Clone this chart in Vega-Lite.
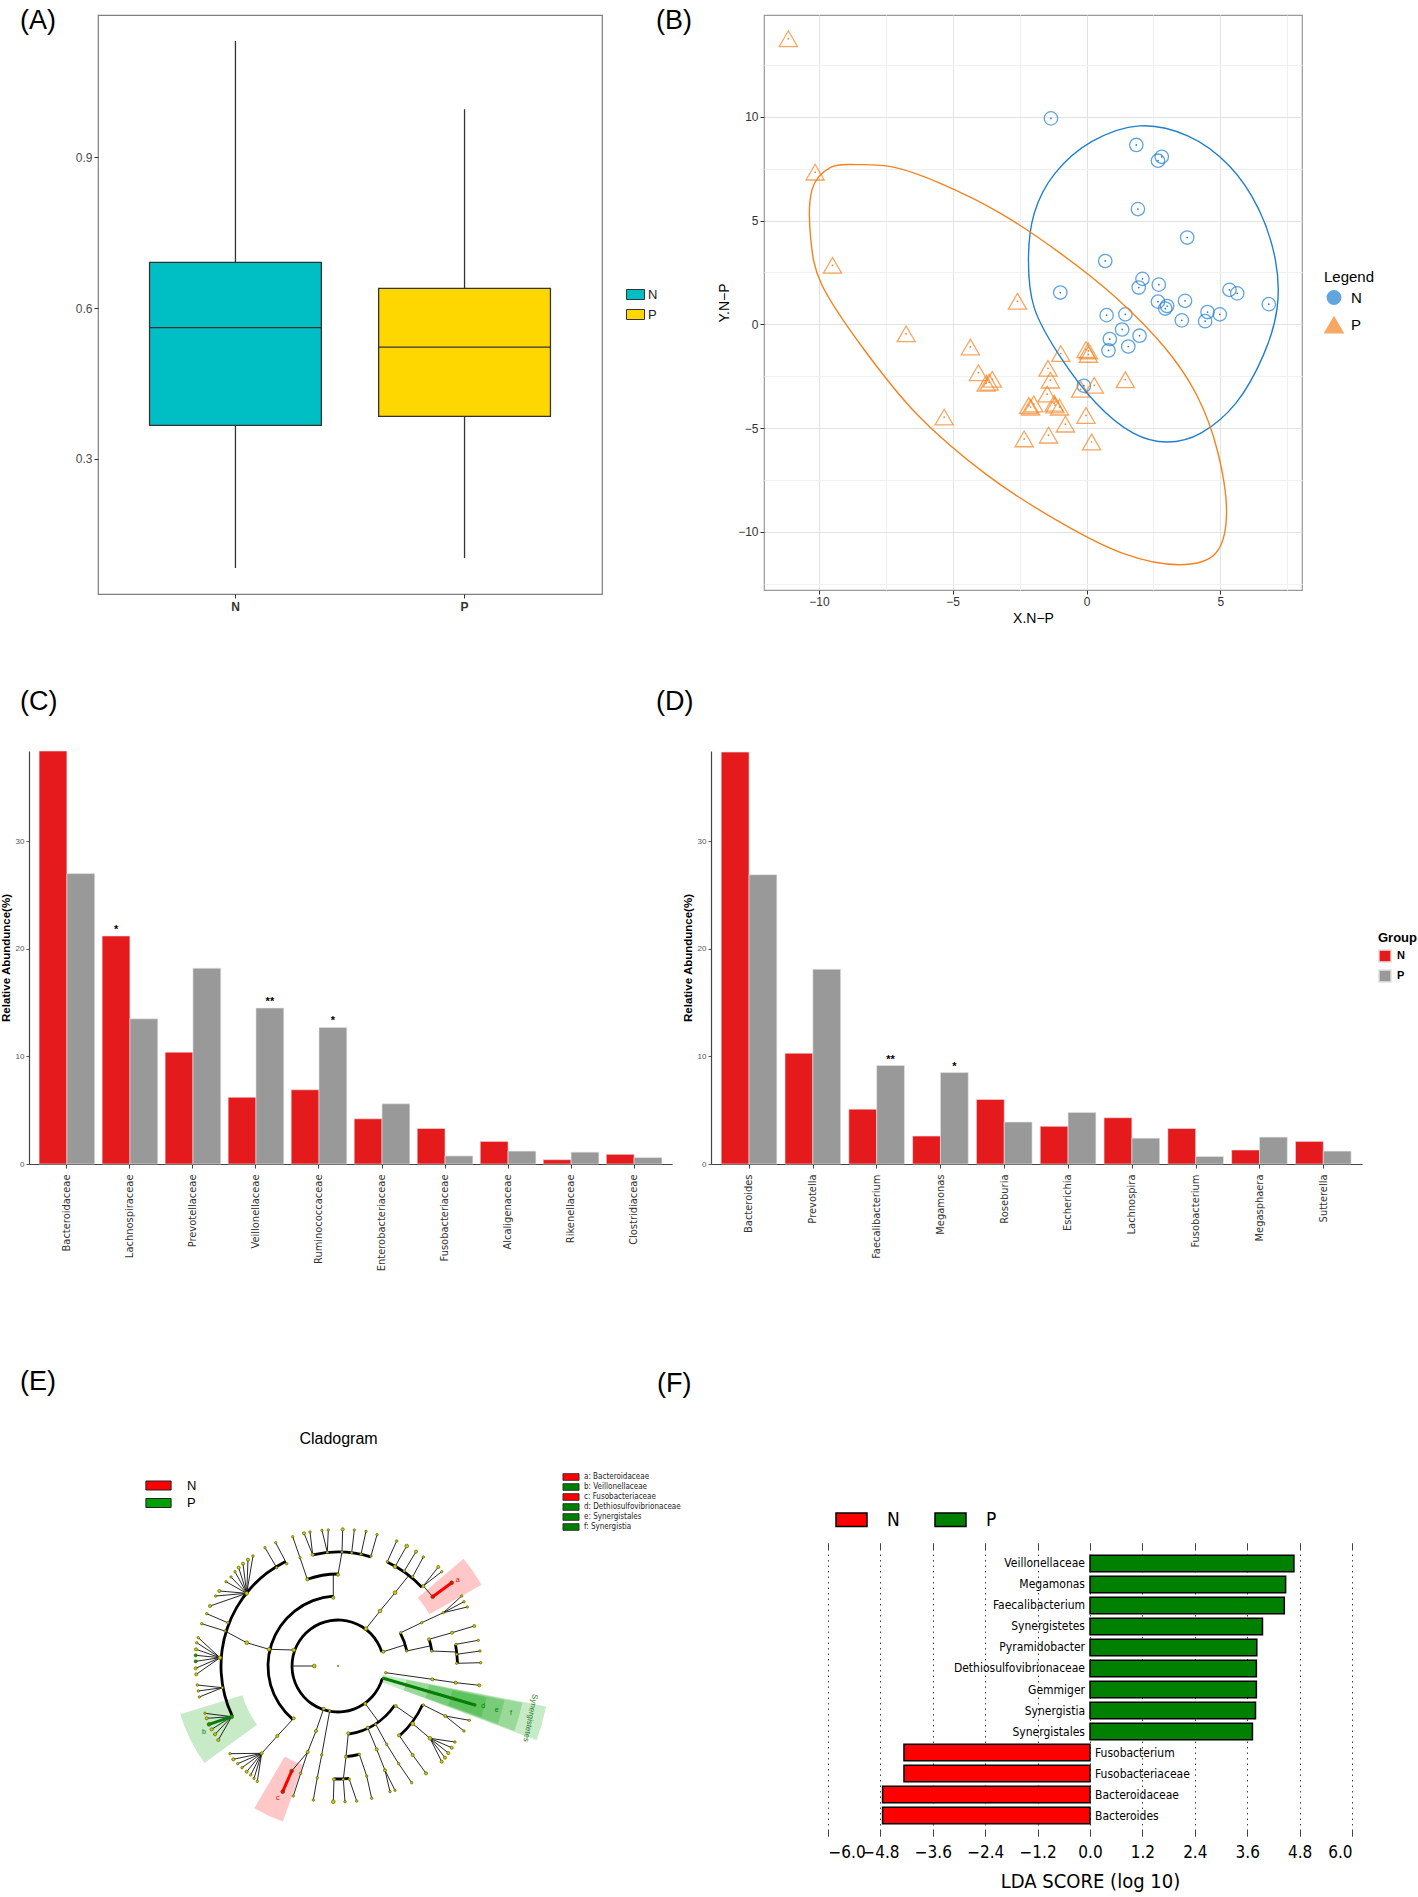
{
"$schema": "https://vega.github.io/schema/vega-lite/v6.json",
"background": "white",
"padding": {"left": 0, "top": 6, "right": 2, "bottom": 2},
"config": {
  "view": {"stroke": null},
  "font": "Liberation Sans",
  "axis": {"labelFont": "Liberation Sans", "titleFont": "Liberation Sans"},
  "legend": {"labelFont": "Liberation Sans", "titleFont": "Liberation Sans"},
  "title": {"font": "Liberation Sans"}
},
"datasets": {
  "boxA": [
    {"group": "N", "lower": 0.082, "q1": 0.366, "median": 0.561, "q3": 0.691, "upper": 1.132},
    {"group": "P", "lower": 0.102, "q1": 0.384, "median": 0.522, "q3": 0.639, "upper": 0.996}
  ],
  "pcoa": [
    {"group":"N","x":-1.33,"y":9.92},{"group":"N","x":1.86,"y":8.64},{"group":"N","x":2.67,"y":7.88},{"group":"N","x":2.81,"y":8.07},
    {"group":"N","x":1.92,"y":5.55},{"group":"N","x":3.76,"y":4.18},{"group":"N","x":0.70,"y":3.05},{"group":"N","x":-0.98,"y":1.53},
    {"group":"N","x":2.09,"y":2.19},{"group":"N","x":1.95,"y":1.77},{"group":"N","x":2.70,"y":1.91},{"group":"N","x":2.67,"y":1.09},
    {"group":"N","x":3.01,"y":0.88},{"group":"N","x":2.94,"y":0.76},{"group":"N","x":3.68,"y":1.13},{"group":"N","x":5.34,"y":1.66},
    {"group":"N","x":5.63,"y":1.49},{"group":"N","x":6.81,"y":0.97},{"group":"N","x":4.52,"y":0.59},{"group":"N","x":4.98,"y":0.48},
    {"group":"N","x":3.56,"y":0.19},{"group":"N","x":4.43,"y":0.15},{"group":"N","x":0.75,"y":0.44},{"group":"N","x":1.45,"y":0.48},
    {"group":"N","x":1.33,"y":-0.25},{"group":"N","x":1.98,"y":-0.55},{"group":"N","x":0.87,"y":-0.71},{"group":"N","x":0.82,"y":-1.26},
    {"group":"N","x":1.56,"y":-1.07},{"group":"N","x":-0.10,"y":-2.96},
    {"group":"P","x":-11.14,"y":13.76},{"group":"P","x":-10.14,"y":7.33},{"group":"P","x":-9.49,"y":2.84},{"group":"P","x":-2.58,"y":1.11},
    {"group":"P","x":-6.74,"y":-0.46},{"group":"P","x":-4.34,"y":-1.09},{"group":"P","x":-4.04,"y":-2.33},{"group":"P","x":-3.64,"y":-2.79},
    {"group":"P","x":-3.52,"y":-2.65},{"group":"P","x":-3.75,"y":-2.84},{"group":"P","x":-5.32,"y":-4.47},{"group":"P","x":-0.96,"y":-1.41},
    {"group":"P","x":-0.02,"y":-1.22},{"group":"P","x":0.07,"y":-1.45},{"group":"P","x":0.07,"y":-1.28},{"group":"P","x":-1.44,"y":-2.12},
    {"group":"P","x":-1.35,"y":-2.69},{"group":"P","x":-1.47,"y":-3.36},{"group":"P","x":-1.18,"y":-3.89},{"group":"P","x":-1.01,"y":-3.99},
    {"group":"P","x":-2.16,"y":-3.91},{"group":"P","x":-1.97,"y":-3.84},{"group":"P","x":-0.79,"y":-4.81},{"group":"P","x":-0.02,"y":-4.39},
    {"group":"P","x":0.29,"y":-2.94},{"group":"P","x":-0.22,"y":-3.13},{"group":"P","x":1.45,"y":-2.67},{"group":"P","x":-2.33,"y":-5.52},
    {"group":"P","x":-1.42,"y":-5.34},{"group":"P","x":0.19,"y":-5.67},{"group":"P","x":-1.21,"y":-3.80},{"group":"P","x":-2.09,"y":-3.99}
  ],
  "ellipses": [
    {"group":"N","i":1,"x":1.98,"y":9.56},{"group":"N","i":2,"x":3.78,"y":9.08},{"group":"N","i":3,"x":5.32,"y":7.65},{"group":"N","i":4,"x":6.43,"y":5.55},
    {"group":"N","i":5,"x":7.06,"y":3.07},{"group":"N","i":6,"x":7.12,"y":0.78},{"group":"N","i":7,"x":6.60,"y":-1.51},{"group":"N","i":8,"x":5.58,"y":-3.80},
    {"group":"N","i":9,"x":4.29,"y":-5.23},{"group":"N","i":10,"x":3.01,"y":-5.67},{"group":"N","i":11,"x":1.73,"y":-5.23},{"group":"N","i":12,"x":0.36,"y":-3.80},
    {"group":"N","i":13,"x":-1.01,"y":-1.51},{"group":"N","i":14,"x":-1.95,"y":0.78},{"group":"N","i":15,"x":-2.17,"y":3.07},{"group":"N","i":16,"x":-1.95,"y":5.36},
    {"group":"N","i":17,"x":-1.18,"y":7.27},{"group":"N","i":18,"x":0.19,"y":8.80},
    {"group":"P","i":1,"x":-8.54,"y":7.69},{"group":"P","i":2,"x":-7.17,"y":7.56},{"group":"P","i":3,"x":-5.46,"y":6.79},{"group":"P","i":4,"x":-3.23,"y":5.36},
    {"group":"P","i":5,"x":-1.01,"y":3.45},{"group":"P","i":6,"x":1.04,"y":1.35},{"group":"P","i":7,"x":2.93,"y":-1.13},{"group":"P","i":8,"x":4.12,"y":-3.42},
    {"group":"P","i":9,"x":4.89,"y":-6.09},{"group":"P","i":10,"x":5.23,"y":-9.14},{"group":"P","i":11,"x":4.81,"y":-11.05},{"group":"P","i":12,"x":3.44,"y":-11.58},
    {"group":"P","i":13,"x":1.39,"y":-11.05},{"group":"P","i":14,"x":-1.01,"y":-9.52},{"group":"P","i":15,"x":-3.75,"y":-7.23},{"group":"P","i":16,"x":-6.31,"y":-4.37},
    {"group":"P","i":17,"x":-8.36,"y":-1.13},{"group":"P","i":18,"x":-9.90,"y":1.93},{"group":"P","i":19,"x":-10.31,"y":4.22},{"group":"P","i":20,"x":-10.25,"y":6.51},
    {"group":"P","i":21,"x":-9.56,"y":7.56}
  ],
  "famC": [
    {"taxon":"Bacteroidaceae","group":"N","value":38.4,"sig":""},{"taxon":"Bacteroidaceae","group":"P","value":27.0,"sig":""},
    {"taxon":"Lachnospiraceae","group":"N","value":21.2,"sig":"*"},{"taxon":"Lachnospiraceae","group":"P","value":13.5,"sig":""},
    {"taxon":"Prevotellaceae","group":"N","value":10.4,"sig":""},{"taxon":"Prevotellaceae","group":"P","value":18.2,"sig":""},
    {"taxon":"Veillonellaceae","group":"N","value":6.2,"sig":""},{"taxon":"Veillonellaceae","group":"P","value":14.5,"sig":"**"},
    {"taxon":"Ruminococcaceae","group":"N","value":6.9,"sig":""},{"taxon":"Ruminococcaceae","group":"P","value":12.7,"sig":"*"},
    {"taxon":"Enterobacteriaceae","group":"N","value":4.2,"sig":""},{"taxon":"Enterobacteriaceae","group":"P","value":5.6,"sig":""},
    {"taxon":"Fusobacteriaceae","group":"N","value":3.3,"sig":""},{"taxon":"Fusobacteriaceae","group":"P","value":0.75,"sig":""},
    {"taxon":"Alcaligenaceae","group":"N","value":2.1,"sig":""},{"taxon":"Alcaligenaceae","group":"P","value":1.2,"sig":""},
    {"taxon":"Rikenellaceae","group":"N","value":0.4,"sig":""},{"taxon":"Rikenellaceae","group":"P","value":1.1,"sig":""},
    {"taxon":"Clostridiaceae","group":"N","value":0.9,"sig":""},{"taxon":"Clostridiaceae","group":"P","value":0.6,"sig":""}
  ],
  "genD": [
    {"taxon":"Bacteroides","group":"N","value":38.3,"sig":""},{"taxon":"Bacteroides","group":"P","value":26.9,"sig":""},
    {"taxon":"Prevotella","group":"N","value":10.3,"sig":""},{"taxon":"Prevotella","group":"P","value":18.1,"sig":""},
    {"taxon":"Faecalibacterium","group":"N","value":5.1,"sig":""},{"taxon":"Faecalibacterium","group":"P","value":9.15,"sig":"**"},
    {"taxon":"Megamonas","group":"N","value":2.6,"sig":""},{"taxon":"Megamonas","group":"P","value":8.5,"sig":"*"},
    {"taxon":"Roseburia","group":"N","value":6.0,"sig":""},{"taxon":"Roseburia","group":"P","value":3.9,"sig":""},
    {"taxon":"Escherichia","group":"N","value":3.5,"sig":""},{"taxon":"Escherichia","group":"P","value":4.8,"sig":""},
    {"taxon":"Lachnospira","group":"N","value":4.3,"sig":""},{"taxon":"Lachnospira","group":"P","value":2.4,"sig":""},
    {"taxon":"Fusobacterium","group":"N","value":3.3,"sig":""},{"taxon":"Fusobacterium","group":"P","value":0.7,"sig":""},
    {"taxon":"Megasphaera","group":"N","value":1.3,"sig":""},{"taxon":"Megasphaera","group":"P","value":2.5,"sig":""},
    {"taxon":"Sutterella","group":"N","value":2.1,"sig":""},{"taxon":"Sutterella","group":"P","value":1.2,"sig":""}
  ],
  "lda": [
    {"feature":"Veillonellaceae","lda":4.67,"group":"P"},{"feature":"Megamonas","lda":4.48,"group":"P"},
    {"feature":"Faecalibacterium","lda":4.45,"group":"P"},{"feature":"Synergistetes","lda":3.95,"group":"P"},
    {"feature":"Pyramidobacter","lda":3.82,"group":"P"},{"feature":"Dethiosulfovibrionaceae","lda":3.81,"group":"P"},
    {"feature":"Gemmiger","lda":3.81,"group":"P"},{"feature":"Synergistia","lda":3.79,"group":"P"},
    {"feature":"Synergistales","lda":3.72,"group":"P"},{"feature":"Fusobacterium","lda":-4.26,"group":"N"},
    {"feature":"Fusobacteriaceae","lda":-4.26,"group":"N"},{"feature":"Bacteroidaceae","lda":-4.75,"group":"N"},
    {"feature":"Bacteroides","lda":-4.75,"group":"N"}
  ],
  "clShade": [
    {"r1":105,"r2":165,"t1":49.5,"t2":60.5,"cls":"N"},
    {"r1":105,"r2":165,"t1":199.5,"t2":210.5,"cls":"N"},
    {"r1":100,"r2":165,"t1":234,"t2":253,"cls":"P"},
    {"r1":46,"r2":212,"t1":101,"t2":110.5,"cls":"P"},
    {"r1":70,"r2":188,"t1":101.3,"t2":110.2,"cls":"P"},
    {"r1":93,"r2":170,"t1":101.6,"t2":109.9,"cls":"P"},
    {"r1":117,"r2":152,"t1":102,"t2":109.6,"cls":"P"}
  ],
  "clArcs": [
    {"r":46,"t1":105.2,"t2":432.5},{"r":70,"t1":220.3,"t2":356},{"r":92,"t1":340.5,"t2":360},
    {"r":114,"t1":347.2,"t2":376.7},{"r":117,"t1":244.5,"t2":333.4},{"r":115,"t1":25.3,"t2":46.8},
    {"r":70.5,"t1":62,"t2":77.7},{"r":95,"t1":73.6,"t2":80.9},{"r":119.5,"t1":79.6,"t2":88.7},
    {"r":69,"t1":124.7,"t2":171.3},{"r":93,"t1":114.6,"t2":138.6},{"r":91,"t1":166.4,"t2":175},
    {"r":113,"t1":174.3,"t2":182}
  ],
  "clEdges": [
    {"x":-23.7,"y":0,"x2":-46,"y2":0,"cls":"none"},
    {"x":-44.3,"y":16,"x2":-69,"y2":16.7,"cls":"none"},
    {"x":-69,"y":16.7,"x2":-91.3,"y2":23.3,"cls":"none"},
    {"x":-91.3,"y":23.3,"x2":-113,"y2":35,"cls":"none"},
    {"x":-4.7,"y":68.3,"x2":-4.7,"y2":91.2,"cls":"none"},
    {"x":0,"y":91.3,"x2":4,"y2":114,"cls":"none"},
    {"x":-30.7,"y":86.7,"x2":-38,"y2":108.3,"cls":"none"},
    {"x":-38,"y":108.3,"x2":-45.3,"y2":129.3,"cls":"none"},
    {"x":-25.3,"y":111.3,"x2":-34,"y2":132.7,"cls":"none"},
    {"x":-25.3,"y":111.3,"x2":-28,"y2":134,"cls":"none"},
    {"x":-10.7,"y":113.7,"x2":-16,"y2":135.7,"cls":"none"},
    {"x":-10.7,"y":113.7,"x2":-9.7,"y2":136,"cls":"none"},
    {"x":4,"y":114,"x2":4.7,"y2":136.7,"cls":"none"},
    {"x":13.7,"y":113.3,"x2":16.3,"y2":136,"cls":"none"},
    {"x":23,"y":111.7,"x2":28,"y2":134.7,"cls":"none"},
    {"x":33,"y":110,"x2":39,"y2":131.3,"cls":"none"},
    {"x":-61.3,"y":98.3,"x2":-73,"y2":118.3,"cls":"none"},
    {"x":-51.3,"y":102.3,"x2":-62.3,"y2":123.3,"cls":"none"},
    {"x":-91.3,"y":72.7,"x2":-85,"y2":110,"cls":"none"},
    {"x":-91.3,"y":72.7,"x2":-90,"y2":106.3,"cls":"none"},
    {"x":-91.3,"y":72.7,"x2":-95,"y2":102.3,"cls":"none"},
    {"x":-91.3,"y":72.7,"x2":-99.3,"y2":98.3,"cls":"none"},
    {"x":-91.3,"y":72.7,"x2":-103,"y2":94.3,"cls":"none"},
    {"x":-91.3,"y":72.7,"x2":-107,"y2":89,"cls":"none"},
    {"x":-91.3,"y":72.7,"x2":-112,"y2":84.3,"cls":"none"},
    {"x":-91.3,"y":72.7,"x2":-118.7,"y2":75,"cls":"none"},
    {"x":-91.3,"y":72.7,"x2":-122.3,"y2":70,"cls":"none"},
    {"x":-91.3,"y":72.7,"x2":-128,"y2":60,"cls":"none"},
    {"x":-110.3,"y":43.3,"x2":-131.3,"y2":52.3,"cls":"none"},
    {"x":-113,"y":35,"x2":-136.3,"y2":42.3,"cls":"none"},
    {"x":-118,"y":8.3,"x2":-139.7,"y2":28.3,"cls":"none"},
    {"x":-118,"y":8.3,"x2":-141.3,"y2":23.3,"cls":"none"},
    {"x":-118,"y":8.3,"x2":-142,"y2":16.7,"cls":"none"},
    {"x":-118,"y":8.3,"x2":-142.3,"y2":10.7,"cls":"none"},
    {"x":-118,"y":8.3,"x2":-142.3,"y2":4.7,"cls":"none"},
    {"x":-118,"y":8.3,"x2":-142.3,"y2":-2.3,"cls":"none"},
    {"x":-118,"y":8.3,"x2":-141.7,"y2":-8.3,"cls":"none"},
    {"x":-115.7,"y":-21.7,"x2":-140.7,"y2":-19,"cls":"none"},
    {"x":-115.7,"y":-21.7,"x2":-139.7,"y2":-25,"cls":"none"},
    {"x":-115.7,"y":-21.7,"x2":-138.7,"y2":-31,"cls":"none"},
    {"x":-106.3,"y":-50.7,"x2":-133,"y2":-47.3,"cls":"none"},
    {"x":-106.3,"y":-50.7,"x2":-131.3,"y2":-52.3,"cls":"none"},
    {"x":-106.3,"y":-50.7,"x2":-126.3,"y2":-63.3,"cls":"none"},
    {"x":-106.3,"y":-50.7,"x2":-123,"y2":-68.3,"cls":"none"},
    {"x":-106.3,"y":-50.7,"x2":-119.7,"y2":-74,"cls":"none"},
    {"x":-44.3,"y":-52.3,"x2":-60.7,"y2":-70,"cls":"none"},
    {"x":-60.7,"y":-70,"x2":-76.3,"y2":-87.3,"cls":"none"},
    {"x":-76.3,"y":-87.3,"x2":-108,"y2":-87.7,"cls":"none"},
    {"x":-76.3,"y":-87.3,"x2":-104.7,"y2":-93.3,"cls":"none"},
    {"x":-76.3,"y":-87.3,"x2":-100.3,"y2":-97.7,"cls":"none"},
    {"x":-76.3,"y":-87.3,"x2":-96,"y2":-101.7,"cls":"none"},
    {"x":-76.3,"y":-87.3,"x2":-91.3,"y2":-105.7,"cls":"none"},
    {"x":-76.3,"y":-87.3,"x2":-87.3,"y2":-109,"cls":"none"},
    {"x":-76.3,"y":-87.3,"x2":-84,"y2":-112.3,"cls":"none"},
    {"x":-76.3,"y":-87.3,"x2":-80.7,"y2":-115.3,"cls":"none"},
    {"x":-14.3,"y":-42.7,"x2":-22,"y2":-65,"cls":"none"},
    {"x":-22,"y":-65,"x2":-30.3,"y2":-86,"cls":"none"},
    {"x":-30.3,"y":-86,"x2":-46.3,"y2":-105,"cls":"none"},
    {"x":-30.3,"y":-86,"x2":-37.3,"y2":-107.3,"cls":"none"},
    {"x":-37.3,"y":-107.3,"x2":-44.7,"y2":-130,"cls":"none"},
    {"x":-8.3,"y":-45,"x2":-16.3,"y2":-89,"cls":"none"},
    {"x":-16.3,"y":-89,"x2":-20.7,"y2":-111.7,"cls":"none"},
    {"x":-20.7,"y":-111.7,"x2":-24.7,"y2":-134,"cls":"none"},
    {"x":27.3,"y":-37.7,"x2":40.6,"y2":-55.8,"cls":"none"},
    {"x":10.3,"y":-67.3,"x2":8,"y2":-90.7,"cls":"none"},
    {"x":8,"y":-90.7,"x2":5.3,"y2":-113.3,"cls":"none"},
    {"x":-4,"y":-113.3,"x2":-4.7,"y2":-135.7,"cls":"none"},
    {"x":5.3,"y":-113.3,"x2":7,"y2":-135.7,"cls":"none"},
    {"x":11.3,"y":-113.3,"x2":18.7,"y2":-135,"cls":"none"},
    {"x":21.3,"y":-88.3,"x2":28.7,"y2":-110,"cls":"none"},
    {"x":28.7,"y":-110,"x2":33.7,"y2":-132.3,"cls":"none"},
    {"x":29.7,"y":-61.7,"x2":38.7,"y2":-83.3,"cls":"none"},
    {"x":38.7,"y":-83.3,"x2":47,"y2":-104.3,"cls":"none"},
    {"x":47,"y":-104.3,"x2":52,"y2":-125.7,"cls":"none"},
    {"x":47,"y":-104.3,"x2":57,"y2":-124.3,"cls":"none"},
    {"x":37.7,"y":-58.3,"x2":48.7,"y2":-78.3,"cls":"none"},
    {"x":48.7,"y":-78.3,"x2":60.7,"y2":-97.7,"cls":"none"},
    {"x":60.7,"y":-97.7,"x2":73.7,"y2":-116.7,"cls":"none"},
    {"x":57.7,"y":-40,"x2":76.4,"y2":-53,"cls":"none"},
    {"x":85.3,"y":-39,"x2":107.3,"y2":-50,"cls":"none"},
    {"x":107.3,"y":-50,"x2":131.3,"y2":-54.3,"cls":"none"},
    {"x":107.3,"y":-50,"x2":126,"y2":-65,"cls":"none"},
    {"x":74.7,"y":-57.7,"x2":92,"y2":-72.3,"cls":"none"},
    {"x":92,"y":-72.3,"x2":117,"y2":-76,"cls":"none"},
    {"x":92,"y":-72.3,"x2":113.7,"y2":-81.7,"cls":"none"},
    {"x":92,"y":-72.3,"x2":110.3,"y2":-87,"cls":"none"},
    {"x":92,"y":-72.3,"x2":107,"y2":-91.7,"cls":"none"},
    {"x":92,"y":-72.3,"x2":103.7,"y2":-95.7,"cls":"none"},
    {"x":61,"y":-69.3,"x2":74.7,"y2":-89,"cls":"none"},
    {"x":74.7,"y":-89,"x2":88,"y2":-107.3,"cls":"none"},
    {"x":28,"y":37.3,"x2":42,"y2":55,"cls":"none"},
    {"x":42,"y":55,"x2":57,"y2":73.3,"cls":"none"},
    {"x":57,"y":73.3,"x2":70.8,"y2":90.6,"cls":"none"},
    {"x":49.3,"y":104.3,"x2":58.7,"y2":125,"cls":"none"},
    {"x":57,"y":99.3,"x2":68.7,"y2":120,"cls":"none"},
    {"x":66.3,"y":95,"x2":78,"y2":114.3,"cls":"none"},
    {"x":74.7,"y":89.3,"x2":85.3,"y2":109,"cls":"none"},
    {"x":85.3,"y":80,"x2":100.3,"y2":99,"cls":"none"},
    {"x":85.3,"y":80,"x2":103.7,"y2":94.3,"cls":"none"},
    {"x":85.3,"y":80,"x2":94.7,"y2":69.3,"cls":"none"},
    {"x":45.3,"y":14.3,"x2":67.2,"y2":21.2,"cls":"none"},
    {"x":62.7,"y":33.3,"x2":83.7,"y2":43.3,"cls":"none"},
    {"x":83.7,"y":43.3,"x2":105.3,"y2":53.3,"cls":"none"},
    {"x":105.3,"y":53.3,"x2":123.7,"y2":70,"cls":"none"},
    {"x":105.3,"y":53.3,"x2":126,"y2":64.3,"cls":"none"},
    {"x":105.3,"y":53.3,"x2":129.3,"y2":59,"cls":"none"},
    {"x":68.7,"y":15,"x2":92.8,"y2":20.2,"cls":"none"},
    {"x":91,"y":26.7,"x2":114,"y2":33.3,"cls":"none"},
    {"x":114,"y":33.3,"x2":136.3,"y2":40,"cls":"none"},
    {"x":93.7,"y":15,"x2":118,"y2":14,"cls":"none"},
    {"x":118,"y":21.7,"x2":140.3,"y2":25.7,"cls":"none"},
    {"x":118.7,"y":11.7,"x2":142,"y2":15,"cls":"none"},
    {"x":118.7,"y":2.7,"x2":142.7,"y2":3.3,"cls":"none"},
    {"x":47.7,"y":-6.7,"x2":94.3,"y2":-13.3,"cls":"none"},
    {"x":94.3,"y":-13.3,"x2":117.7,"y2":-16.7,"cls":"none"},
    {"x":117.7,"y":-16.7,"x2":141.3,"y2":-19.3,"cls":"none"},
    {"x":-106.3,"y":-50.7,"x2":-129,"y2":-58.3,"cls":"P"},
    {"x":-46.3,"y":-105,"x2":-55.3,"y2":-125.7,"cls":"N"},
    {"x":94.7,"y":69.3,"x2":113.7,"y2":83.3,"cls":"N"},
    {"x":45.3,"y":-12.3,"x2":137,"y2":-39,"cls":"P"}
  ],
  "clNodes": [
    {"x":0,"y":0,"ab":0,"cls":"none"},
    {"x":28,"y":37.3,"ab":3,"cls":"none"},{"x":45.3,"y":14.3,"ab":2,"cls":"none"},{"x":47.7,"y":-6.7,"ab":1,"cls":"none"},
    {"x":45.3,"y":-12.3,"ab":1,"cls":"P"},{"x":27.3,"y":-37.7,"ab":2,"cls":"none"},{"x":-14.3,"y":-42.7,"ab":2,"cls":"none"},
    {"x":-8.3,"y":-45,"ab":1,"cls":"none"},{"x":-44.3,"y":16,"ab":3,"cls":"none"},{"x":-23.7,"y":0,"ab":3,"cls":"none"},
    {"x":-69,"y":16.7,"ab":3,"cls":"none"},{"x":-4.7,"y":68.3,"ab":2,"cls":"none"},{"x":-44.3,"y":-52.3,"ab":2,"cls":"none"},
    {"x":-91.3,"y":23.3,"ab":3,"cls":"none"},
    {"x":-30.7,"y":86.7,"ab":2,"cls":"none"},{"x":0,"y":91.3,"ab":2,"cls":"none"},{"x":-38,"y":108.3,"ab":1,"cls":"none"},
    {"x":-45.3,"y":129.3,"ab":1,"cls":"none"},{"x":-25.3,"y":111.3,"ab":2,"cls":"none"},{"x":-10.7,"y":113.7,"ab":1,"cls":"none"},
    {"x":4,"y":114,"ab":1,"cls":"none"},{"x":13.7,"y":113.3,"ab":1,"cls":"none"},{"x":23,"y":111.7,"ab":1,"cls":"none"},
    {"x":33,"y":110,"ab":1,"cls":"none"},{"x":-34,"y":132.7,"ab":2,"cls":"none"},{"x":-28,"y":134,"ab":1,"cls":"none"},
    {"x":-16,"y":135.7,"ab":1,"cls":"none"},{"x":-9.7,"y":136,"ab":1,"cls":"none"},{"x":4.7,"y":136.7,"ab":2,"cls":"none"},
    {"x":16.3,"y":136,"ab":1,"cls":"none"},{"x":28,"y":134.7,"ab":1,"cls":"none"},{"x":39,"y":131.3,"ab":1,"cls":"none"},
    {"x":-51.3,"y":102.3,"ab":1,"cls":"none"},{"x":-61.3,"y":98.3,"ab":1,"cls":"none"},{"x":-73,"y":118.3,"ab":1,"cls":"none"},
    {"x":-62.3,"y":123.3,"ab":1,"cls":"none"},{"x":-91.3,"y":72.7,"ab":3,"cls":"none"},
    {"x":-85,"y":110,"ab":1,"cls":"none"},{"x":-90,"y":106.3,"ab":2,"cls":"none"},{"x":-95,"y":102.3,"ab":2,"cls":"none"},
    {"x":-99.3,"y":98.3,"ab":2,"cls":"none"},{"x":-103,"y":94.3,"ab":1,"cls":"none"},{"x":-107,"y":89,"ab":1,"cls":"none"},
    {"x":-112,"y":84.3,"ab":1,"cls":"none"},{"x":-118.7,"y":75,"ab":2,"cls":"none"},{"x":-122.3,"y":70,"ab":1,"cls":"none"},
    {"x":-128,"y":60,"ab":2,"cls":"none"},
    {"x":-110.3,"y":43.3,"ab":1,"cls":"none"},{"x":-131.3,"y":52.3,"ab":1,"cls":"none"},{"x":-113,"y":35,"ab":1,"cls":"none"},
    {"x":-136.3,"y":42.3,"ab":1,"cls":"none"},{"x":-118,"y":8.3,"ab":3,"cls":"none"},
    {"x":-139.7,"y":28.3,"ab":1,"cls":"none"},{"x":-141.3,"y":23.3,"ab":1,"cls":"none"},{"x":-142,"y":16.7,"ab":2,"cls":"none"},
    {"x":-142.3,"y":10.7,"ab":2,"cls":"P"},{"x":-142.3,"y":4.7,"ab":2,"cls":"P"},{"x":-142.3,"y":-2.3,"ab":2,"cls":"none"},
    {"x":-141.7,"y":-8.3,"ab":2,"cls":"none"},
    {"x":-115.7,"y":-21.7,"ab":1,"cls":"none"},{"x":-140.7,"y":-19,"ab":1,"cls":"none"},{"x":-139.7,"y":-25,"ab":1,"cls":"none"},
    {"x":-138.7,"y":-31,"ab":1,"cls":"none"},
    {"x":-106.3,"y":-50.7,"ab":3,"cls":"P"},{"x":-133,"y":-47.3,"ab":1,"cls":"none"},{"x":-131.3,"y":-52.3,"ab":2,"cls":"none"},
    {"x":-129,"y":-58.3,"ab":3,"cls":"P"},{"x":-126.3,"y":-63.3,"ab":2,"cls":"none"},{"x":-123,"y":-68.3,"ab":2,"cls":"none"},
    {"x":-119.7,"y":-74,"ab":2,"cls":"none"},
    {"x":-60.7,"y":-70,"ab":2,"cls":"none"},{"x":-76.3,"y":-87.3,"ab":2,"cls":"none"},
    {"x":-108,"y":-87.7,"ab":1,"cls":"none"},{"x":-104.7,"y":-93.3,"ab":2,"cls":"none"},{"x":-100.3,"y":-97.7,"ab":1,"cls":"none"},
    {"x":-96,"y":-101.7,"ab":1,"cls":"none"},{"x":-91.3,"y":-105.7,"ab":2,"cls":"none"},{"x":-87.3,"y":-109,"ab":1,"cls":"none"},
    {"x":-84,"y":-112.3,"ab":1,"cls":"none"},{"x":-80.7,"y":-115.3,"ab":1,"cls":"none"},
    {"x":-22,"y":-65,"ab":2,"cls":"none"},{"x":-30.3,"y":-86,"ab":2,"cls":"none"},{"x":-37.3,"y":-107.3,"ab":1,"cls":"none"},
    {"x":-44.7,"y":-130,"ab":1,"cls":"none"},{"x":-46.3,"y":-105,"ab":3,"cls":"N"},{"x":-55.3,"y":-125.7,"ab":3,"cls":"N"},
    {"x":-16.3,"y":-89,"ab":1,"cls":"none"},{"x":-20.7,"y":-111.7,"ab":1,"cls":"none"},{"x":-24.7,"y":-134,"ab":1,"cls":"none"},
    {"x":10.3,"y":-67.3,"ab":2,"cls":"none"},{"x":29.7,"y":-61.7,"ab":2,"cls":"none"},{"x":37.7,"y":-58.3,"ab":1,"cls":"none"},
    {"x":57.7,"y":-40,"ab":2,"cls":"none"},{"x":8,"y":-90.7,"ab":2,"cls":"none"},{"x":21.3,"y":-88.3,"ab":1,"cls":"none"},
    {"x":-4,"y":-113.3,"ab":2,"cls":"none"},{"x":5.3,"y":-113.3,"ab":1,"cls":"none"},{"x":11.3,"y":-113.3,"ab":1,"cls":"none"},
    {"x":-4.7,"y":-135.7,"ab":3,"cls":"none"},{"x":7,"y":-135.7,"ab":1,"cls":"none"},{"x":18.7,"y":-135,"ab":1,"cls":"none"},
    {"x":28.7,"y":-110,"ab":1,"cls":"none"},{"x":33.7,"y":-132.3,"ab":1,"cls":"none"},
    {"x":38.7,"y":-83.3,"ab":2,"cls":"none"},{"x":47,"y":-104.3,"ab":2,"cls":"none"},{"x":52,"y":-125.7,"ab":1,"cls":"none"},
    {"x":57,"y":-124.3,"ab":1,"cls":"none"},{"x":48.7,"y":-78.3,"ab":1,"cls":"none"},{"x":60.7,"y":-97.7,"ab":1,"cls":"none"},
    {"x":73.7,"y":-116.7,"ab":1,"cls":"none"},
    {"x":85.3,"y":-39,"ab":1,"cls":"none"},{"x":74.7,"y":-57.7,"ab":3,"cls":"none"},{"x":61,"y":-69.3,"ab":2,"cls":"none"},
    {"x":107.3,"y":-50,"ab":2,"cls":"none"},{"x":131.3,"y":-54.3,"ab":1,"cls":"none"},{"x":126,"y":-65,"ab":1,"cls":"none"},
    {"x":92,"y":-72.3,"ab":3,"cls":"none"},
    {"x":117,"y":-76,"ab":1,"cls":"none"},{"x":113.7,"y":-81.7,"ab":2,"cls":"none"},{"x":110.3,"y":-87,"ab":2,"cls":"none"},
    {"x":107,"y":-91.7,"ab":2,"cls":"none"},{"x":103.7,"y":-95.7,"ab":2,"cls":"none"},
    {"x":74.7,"y":-89,"ab":2,"cls":"none"},{"x":88,"y":-107.3,"ab":2,"cls":"none"},
    {"x":42,"y":55,"ab":3,"cls":"none"},{"x":57,"y":73.3,"ab":3,"cls":"none"},
    {"x":49.3,"y":104.3,"ab":1,"cls":"none"},{"x":57,"y":99.3,"ab":3,"cls":"none"},{"x":66.3,"y":95,"ab":1,"cls":"none"},
    {"x":74.7,"y":89.3,"ab":1,"cls":"none"},{"x":85.3,"y":80,"ab":2,"cls":"none"},
    {"x":58.7,"y":125,"ab":1,"cls":"none"},{"x":68.7,"y":120,"ab":3,"cls":"none"},{"x":78,"y":114.3,"ab":2,"cls":"none"},
    {"x":85.3,"y":109,"ab":1,"cls":"none"},{"x":100.3,"y":99,"ab":2,"cls":"none"},{"x":103.7,"y":94.3,"ab":1,"cls":"none"},
    {"x":94.7,"y":69.3,"ab":3,"cls":"N"},{"x":113.7,"y":83.3,"ab":3,"cls":"N"},
    {"x":62.7,"y":33.3,"ab":1,"cls":"none"},{"x":68.7,"y":15,"ab":1,"cls":"none"},{"x":83.7,"y":43.3,"ab":1,"cls":"none"},
    {"x":105.3,"y":53.3,"ab":1,"cls":"none"},{"x":123.7,"y":70,"ab":1,"cls":"none"},{"x":126,"y":64.3,"ab":1,"cls":"none"},
    {"x":129.3,"y":59,"ab":1,"cls":"none"},
    {"x":91,"y":26.7,"ab":2,"cls":"none"},{"x":93.7,"y":15,"ab":1,"cls":"none"},{"x":114,"y":33.3,"ab":2,"cls":"none"},
    {"x":136.3,"y":40,"ab":2,"cls":"none"},{"x":118,"y":21.7,"ab":1,"cls":"none"},{"x":118.7,"y":11.7,"ab":1,"cls":"none"},
    {"x":118.7,"y":2.7,"ab":1,"cls":"none"},{"x":140.3,"y":25.7,"ab":1,"cls":"none"},{"x":142,"y":15,"ab":1,"cls":"none"},
    {"x":142.7,"y":3.3,"ab":1,"cls":"none"},
    {"x":94.3,"y":-13.3,"ab":2,"cls":"none"},{"x":117.7,"y":-16.7,"ab":2,"cls":"none"},{"x":141.3,"y":-19.3,"ab":2,"cls":"none"},
    {"x":68.7,"y":-19.3,"ab":1,"cls":"P"},{"x":91.3,"y":-25.7,"ab":1,"cls":"P"},{"x":114.3,"y":-32.3,"ab":1,"cls":"P"},
    {"x":137,"y":-39,"ab":1,"cls":"P"}
  ],
  "clLetters": [
    {"x":119.7,"y":86.3,"letter":"a","name":"a: Bacteroidaceae"},
    {"x":-134,"y":-65.7,"letter":"b","name":"b: Veillonellaceae"},
    {"x":-60.3,"y":-131.7,"letter":"c","name":"c: Fusobacteriaceae"},
    {"x":145.3,"y":-40.3,"letter":"d","name":"d: Dethiosulfovibrionaceae"},
    {"x":158.7,"y":-44.3,"letter":"e","name":"e: Synergistales"},
    {"x":173,"y":-47,"letter":"f","name":"f: Synergistia"}
  ]
},
"vconcat": [
  {
    "hconcat": [
      {"width": 96, "height": 640, "data": {"values": []}, "mark": {"type": "point", "opacity": 0}},
      {
        "width": 504, "height": 579,
        "view": {"stroke": "#7f7f7f", "strokeWidth": 1.2},
        "title": {"text": "(A)", "anchor": "start", "frame": "group", "fontSize": 27, "fontWeight": "normal", "color": "#000", "baseline": "bottom", "offset": -47, "dx": -78},
        "data": {"name": "boxA"},
        "encoding": {"x": {"field": "group", "type": "nominal", "sort": null, "scale": {"paddingInner": 0.25, "paddingOuter": 0.225},
          "axis": {"title": null, "labelAngle": 0, "labelFontSize": 12, "labelFontWeight": "bold", "labelColor": "#333", "tickSize": 4, "tickColor": "#333", "domain": false, "labelPadding": 3}}},
        "layer": [
          {"mark": {"type": "rule", "color": "#333", "strokeWidth": 1.3},
           "encoding": {"y": {"field": "lower", "type": "quantitative", "scale": {"domain": [0.03, 1.184], "nice": false, "zero": false},
              "axis": {"values": [0.3, 0.6, 0.9], "format": ".1f", "title": null, "grid": false, "domain": false, "labelFontSize": 12, "labelColor": "#4d4d4d", "tickSize": 4, "tickColor": "#333"}},
             "y2": {"field": "upper"}}},
          {"mark": {"type": "bar", "stroke": "#333", "strokeWidth": 1.3},
           "encoding": {"y": {"field": "q1", "type": "quantitative"}, "y2": {"field": "q3"},
             "fill": {"field": "group", "type": "nominal", "scale": {"domain": ["N", "P"], "range": ["#00BFC4", "#FFD700"]},
               "legend": {"title": null, "orient": "none", "legendX": 531, "legendY": 273, "symbolType": "M-1.8,-1H1.8V1H-1.8Z", "symbolSize": 100, "symbolStrokeColor": "#333", "symbolStrokeWidth": 1, "labelFontSize": 13, "labelColor": "#222", "labelOffset": 6, "rowPadding": 5}}}},
          {"mark": {"type": "bar", "stroke": "#333", "strokeWidth": 1.3, "fillOpacity": 0},
           "encoding": {"y": {"field": "median", "type": "quantitative"}, "y2": {"field": "median"}}}
        ]
      },
      {"width": 162, "height": 1, "data": {"values": []}, "mark": {"type": "point", "opacity": 0}},
      {
        "width": 538, "height": 575,
        "view": {"stroke": "#9a9a9a", "strokeWidth": 1.2},
        "title": {"text": "(B)", "anchor": "start", "frame": "group", "fontSize": 27, "fontWeight": "normal", "color": "#000", "baseline": "bottom", "offset": -47, "dx": -108},
        "layer": [
          {"data": {"name": "pcoa"},
           "mark": {"type": "point", "filled": false, "strokeWidth": 1.3},
           "encoding": {
             "x": {"field": "x", "type": "quantitative", "scale": {"domain": [-12.05, 8.05], "nice": false, "zero": false},
               "axis": {"values": [-10, -7.5, -5, -2.5, 0, 2.5, 5, 7.5], "labelExpr": "datum.value % 5 === 0 ? datum.label : ''",
                 "title": "X.N−P", "titleFontSize": 14, "titleFontWeight": "normal", "titleColor": "#000", "titlePadding": 4,
                 "labelFontSize": 12, "labelColor": "#333", "domain": false, "grid": true, "tickSize": 4,
                 "gridColor": {"condition": {"test": "datum.value % 5 === 0", "value": "#e2e2e2"}, "value": "#f1f1f1"},
                 "tickColor": {"condition": {"test": "datum.value % 5 === 0", "value": "#333"}, "value": "transparent"}}},
             "y": {"field": "y", "type": "quantitative", "scale": {"domain": [-12.8, 14.9], "nice": false, "zero": false},
               "axis": {"values": [-12.5, -10, -7.5, -5, -2.5, 0, 2.5, 5, 7.5, 10, 12.5], "labelExpr": "datum.value % 5 === 0 ? datum.label : ''",
                 "title": "Y.N−P", "titleFontSize": 14, "titleFontWeight": "normal", "titleColor": "#000", "titlePadding": 6,
                 "labelFontSize": 12, "labelColor": "#333", "domain": false, "grid": true, "tickSize": 4,
                 "gridColor": {"condition": {"test": "datum.value % 5 === 0", "value": "#e2e2e2"}, "value": "#f1f1f1"},
                 "tickColor": {"condition": {"test": "datum.value % 5 === 0", "value": "#333"}, "value": "transparent"}}},
             "color": {"field": "group", "type": "nominal", "scale": {"domain": ["N", "P"], "range": ["#1f7fd0", "#f5821f"]},
               "legend": {"title": "Legend", "orient": "none", "legendX": 560, "legendY": 255, "titleFontSize": 15, "titleFontWeight": "normal", "titleColor": "#000", "titlePadding": 5, "labelFontSize": 15, "labelColor": "#000", "symbolSize": 230, "symbolStrokeWidth": 1.4, "symbolFillColor": "transparent", "labelOffset": 7, "rowPadding": 6}},
             "shape": {"field": "group", "type": "nominal", "scale": {"domain": ["N", "P"], "range": ["circle", "triangle-up"]},
               "legend": {"title": "Legend", "orient": "none", "legendX": 560, "legendY": 255, "titleFontSize": 15, "titleFontWeight": "normal", "titleColor": "#000", "titlePadding": 5, "labelFontSize": 15, "labelColor": "#000", "symbolSize": 230, "symbolStrokeWidth": 1.4, "symbolFillColor": "transparent", "labelOffset": 7, "rowPadding": 6}},
             "size": {"field": "group", "type": "nominal", "scale": {"domain": ["N", "P"], "range": [180, 330]}, "legend": null}
           }},
          {"data": {"name": "ellipses"},
           "mark": {"type": "line", "interpolate": "cardinal-closed", "strokeWidth": 1.4},
           "encoding": {"x": {"field": "x", "type": "quantitative"}, "y": {"field": "y", "type": "quantitative"},
             "color": {"field": "group", "type": "nominal", "legend": null}, "order": {"field": "i", "type": "quantitative"}}},
          {"data": {"name": "pcoa"},
           "mark": {"type": "circle", "size": 3, "opacity": 1},
           "encoding": {"x": {"field": "x", "type": "quantitative"}, "y": {"field": "y", "type": "quantitative"},
             "fill": {"field": "group", "type": "nominal", "scale": {"domain": ["N", "P"], "range": ["#1f7fd0", "#f5821f"]}, "legend": null}}}
        ]
      }
    ],
    "spacing": 0, "bounds": "flush",
    "resolve": {"scale": {"color": "independent", "fill": "independent", "stroke": "independent", "shape": "independent", "size": "independent", "x": "independent", "y": "independent"}, "legend": {"color": "independent", "fill": "independent", "stroke": "independent", "shape": "independent", "size": "independent"}}
  },
  {
    "vconcat": [
      {
        "hconcat": [
          {"width": 27, "height": 560, "data": {"values": []}, "mark": {"type": "point", "opacity": 0}},
          {
            "width": 643, "height": 413,
            "title": {"text": "(C)", "anchor": "start", "frame": "group", "fontSize": 27, "fontWeight": "normal", "color": "#000", "baseline": "bottom", "offset": 8, "dx": -9},
            "data": {"name": "famC"},
            "encoding": {
              "x": {"field": "taxon", "type": "nominal", "sort": null, "scale": {"paddingInner": 0.117, "paddingOuter": 0.16},
                "axis": {"title": null, "labelAngle": -90, "labelAlign": "right", "labelBaseline": "middle", "labelFontSize": 11, "labelFont": "DejaVu Sans Condensed, Liberation Sans", "labelColor": "#333", "tickSize": 4, "tickColor": "#444", "domainColor": "#444", "domainWidth": 1.2, "labelPadding": 6}},
              "xOffset": {"field": "group", "type": "nominal", "sort": ["N", "P"]},
              "y": {"field": "value", "type": "quantitative", "scale": {"domain": [0, 38.4], "nice": false},
                "axis": {"values": [0, 10, 20, 30], "title": "Relative Abundunce(%)", "titleFontSize": 11.5, "titleFontWeight": "bold", "titleColor": "#000", "titlePadding": 4, "labelFontSize": 8, "labelColor": "#555", "tickSize": 3, "tickColor": "#555", "domainColor": "#444", "domainWidth": 1.2, "grid": false}}
            },
            "layer": [
              {"mark": {"type": "bar", "stroke": "#e6e6e6", "strokeWidth": 0.6},
               "encoding": {"color": {"field": "group", "type": "nominal", "scale": {"domain": ["N", "P"], "range": ["#E41A1C", "#999999"]}, "legend": null}}},
              {"transform": [{"filter": "datum.sig != ''"}],
               "mark": {"type": "text", "dy": -1, "fontSize": 11, "fontWeight": "bold", "baseline": "bottom", "color": "#000"},
               "encoding": {"text": {"field": "sig"}}}
            ]
          },
          {"width": 39, "height": 1, "data": {"values": []}, "mark": {"type": "point", "opacity": 0}},
          {
            "width": 651, "height": 413,
            "title": {"text": "(D)", "anchor": "start", "frame": "group", "fontSize": 27, "fontWeight": "normal", "color": "#000", "baseline": "bottom", "offset": 8, "dx": -55},
            "data": {"name": "genD"},
            "encoding": {
              "x": {"field": "taxon", "type": "nominal", "sort": null, "scale": {"paddingInner": 0.117, "paddingOuter": 0.16},
                "axis": {"title": null, "labelAngle": -90, "labelAlign": "right", "labelBaseline": "middle", "labelFontSize": 11, "labelFont": "DejaVu Sans Condensed, Liberation Sans", "labelColor": "#333", "tickSize": 4, "tickColor": "#444", "domainColor": "#444", "domainWidth": 1.2, "labelPadding": 6}},
              "xOffset": {"field": "group", "type": "nominal", "sort": ["N", "P"]},
              "y": {"field": "value", "type": "quantitative", "scale": {"domain": [0, 38.4], "nice": false},
                "axis": {"values": [0, 10, 20, 30], "title": "Relative Abundunce(%)", "titleFontSize": 11.5, "titleFontWeight": "bold", "titleColor": "#000", "titlePadding": 4, "labelFontSize": 8, "labelColor": "#555", "tickSize": 3, "tickColor": "#555", "domainColor": "#444", "domainWidth": 1.2, "grid": false}}
            },
            "layer": [
              {"mark": {"type": "bar", "stroke": "#e6e6e6", "strokeWidth": 0.6},
               "encoding": {"color": {"field": "group", "type": "nominal", "scale": {"domain": ["N", "P"], "range": ["#E41A1C", "#999999"]},
                 "legend": {"title": "Group", "orient": "none", "legendX": 667, "legendY": 181, "titleFontSize": 13, "titleFontWeight": "bold", "titleColor": "#000", "titlePadding": 4, "labelFontSize": 11, "labelFontWeight": "bold", "labelColor": "#000", "symbolType": "square", "symbolSize": 150, "rowPadding": 0, "labelOffset": 5}}}},
              {"transform": [{"filter": "datum.sig != ''"}],
               "mark": {"type": "text", "dy": -1, "fontSize": 11, "fontWeight": "bold", "baseline": "bottom", "color": "#000"},
               "encoding": {"text": {"field": "sig"}}}
            ]
          }
        ],
        "spacing": 0, "bounds": "flush",
        "resolve": {"scale": {"color": "independent", "x": "independent", "y": "independent"}, "legend": {"color": "independent"}}
      },
      {
        "hconcat": [
          {"width": 27, "height": 1, "data": {"values": []}, "mark": {"type": "point", "opacity": 0}},
          {
            "width": 618, "height": 246,
            "title": {"text": "(E)", "anchor": "start", "frame": "group", "fontSize": 27, "fontWeight": "normal", "color": "#000", "baseline": "bottom", "offset": 7, "dx": -9},
            "layer": [
              {"data": {"name": "clShade"},
               "mark": {"type": "arc", "fillOpacity": 0.22},
               "encoding": {
                 "theta": {"field": "t1", "type": "quantitative", "stack": null, "scale": {"type": "linear", "domain": [0, 360], "range": [0, 6.283185307179586], "zero": false, "nice": false}},
                 "theta2": {"field": "t2"},
                 "radius": {"field": "r2", "type": "quantitative", "scale": {"type": "linear", "domain": [0, 100], "range": [0, 100], "zero": false, "nice": false}},
                 "radius2": {"field": "r1"},
                 "fill": {"field": "cls", "type": "nominal", "scale": {"domain": ["none", "N", "P"], "range": ["#cccc00", "#ff0000", "#00a000"]}}
               }},
              {"data": {"name": "clArcs"},
               "mark": {"type": "arc", "color": "#000", "radiusOffset": 1.4, "radius2Offset": -1.4},
               "encoding": {
                 "theta": {"field": "t1", "type": "quantitative", "stack": null},
                 "theta2": {"field": "t2"},
                 "radius": {"field": "r", "type": "quantitative"},
                 "radius2": {"field": "r"}
               }},
              {"data": {"name": "clEdges"},
               "transform": [{"filter": "datum.cls == 'none'"}],
               "mark": {"type": "rule", "color": "#111", "strokeWidth": 0.9},
               "encoding": {
                 "x": {"field": "x", "type": "quantitative", "scale": {"domain": [-309, 309], "nice": false, "zero": false},
                   "axis": {"orient": "top", "title": "Cladogram", "titleFontSize": 16, "titleFontWeight": "normal", "titleColor": "#000", "titlePadding": 97, "labels": false, "ticks": false, "domain": false, "grid": false}},
                 "y": {"field": "y", "type": "quantitative", "scale": {"domain": [-123, 123], "nice": false, "zero": false}, "axis": null},
                 "x2": {"field": "x2"}, "y2": {"field": "y2"}
               }},
              {"data": {"name": "clEdges"},
               "transform": [{"filter": "datum.cls != 'none'"}],
               "mark": {"type": "rule", "strokeWidth": 3},
               "encoding": {
                 "x": {"field": "x", "type": "quantitative"}, "y": {"field": "y", "type": "quantitative"},
                 "x2": {"field": "x2"}, "y2": {"field": "y2"},
                 "stroke": {"field": "cls", "type": "nominal", "scale": {"domain": ["N", "P"], "range": ["#ff0000", "#008000"]}, "legend": null}
               }},
              {"data": {"name": "clNodes"},
               "mark": {"type": "circle", "opacity": 1, "stroke": "#4d4d00", "strokeWidth": 0.6},
               "encoding": {
                 "x": {"field": "x", "type": "quantitative"}, "y": {"field": "y", "type": "quantitative"},
                 "fill": {"field": "cls", "type": "nominal",
                   "legend": {"title": null, "orient": "none", "legendX": 123, "legendY": -64, "values": ["N", "P"], "symbolType": "M-2.8,-1H2.8V1H-2.8Z", "symbolSize": 81, "symbolOpacity": 1, "symbolStrokeColor": "#222", "symbolStrokeWidth": 1, "labelFontSize": 13, "labelColor": "#000", "labelOffset": 22, "rowPadding": 3.5}},
                 "size": {"field": "ab", "type": "ordinal", "scale": {"domain": [0, 1, 2, 3], "range": [2, 14, 34, 80]}, "legend": null}
               }},
              {"data": {"name": "clLetters"},
               "mark": {"type": "text", "fontSize": 7},
               "encoding": {
                 "x": {"field": "x", "type": "quantitative"}, "y": {"field": "y", "type": "quantitative"},
                 "text": {"field": "letter"},
                 "color": {"field": "name", "type": "nominal",
                   "scale": {"domain": ["a: Bacteroidaceae", "b: Veillonellaceae", "c: Fusobacteriaceae", "d: Dethiosulfovibrionaceae", "e: Synergistales", "f: Synergistia"], "range": ["#ff0000", "#008000", "#ff0000", "#008000", "#008000", "#008000"]},
                   "legend": {"title": null, "orient": "none", "legendX": 538, "legendY": -70, "symbolType": "M-2.4,-1H2.4V1H-2.4Z", "symbolSize": 45, "symbolOpacity": 1, "symbolStrokeColor": "#222", "symbolStrokeWidth": 0.8, "labelFontSize": 8, "labelFont": "DejaVu Sans Condensed, Liberation Sans", "labelColor": "#222", "labelOffset": 9, "rowPadding": 0}}
               }},
              {"data": {"values": [{"x": 192, "y": -52, "label": "Synergistetes"}]},
               "mark": {"type": "text", "angle": 101, "fontSize": 8, "color": "#2a7a2a"},
               "encoding": {"x": {"field": "x", "type": "quantitative"}, "y": {"field": "y", "type": "quantitative"}, "text": {"field": "label"}}}
            ]
          },
          {"width": 181, "height": 1, "data": {"values": []}, "mark": {"type": "point", "opacity": 0}},
          {
            "width": 524, "height": 293,
            "title": {"text": "(F)", "anchor": "start", "frame": "group", "fontSize": 27, "fontWeight": "normal", "color": "#000", "baseline": "bottom", "offset": 85, "dx": -171},
            "data": {"name": "lda"},
            "encoding": {"y": {"field": "feature", "type": "nominal", "sort": null, "scale": {"paddingInner": 0.21, "paddingOuter": 0.58}, "axis": null}},
            "layer": [
              {"mark": {"type": "bar", "stroke": "#000", "strokeWidth": 1.5},
               "encoding": {
                 "x": {"field": "lda", "type": "quantitative", "scale": {"domain": [-6, 6], "nice": false},
                   "axis": {"orient": "bottom", "values": [-6, -4.8, -3.6, -2.4, -1.2, 0, 1.2, 2.4, 3.6, 4.8, 6], "format": ".1f", "labelOverlap": false, "grid": true, "gridDash": [1.5, 4], "gridColor": "#444", "gridWidth": 1, "domain": false, "tickSize": -6, "tickColor": "#444", "tickWidth": 1, "labelFontSize": 17, "labelColor": "#000", "labelPadding": 14, "labelFont": "DejaVu Sans Condensed, Liberation Sans", "title": "LDA SCORE (log 10)", "titleFont": "DejaVu Sans Condensed, Liberation Sans", "titleFontSize": 20, "titleFontWeight": "normal", "titleColor": "#000", "titlePadding": 11}},
                 "x2": {"datum": 0},
                 "fill": {"field": "group", "type": "nominal", "scale": {"domain": ["N", "P"], "range": ["#ff0000", "#008000"]},
                   "legend": {"title": null, "orient": "none", "legendX": 14, "legendY": -33, "direction": "horizontal", "columns": 2, "symbolType": "M-2.33,-1H2.33V1H-2.33Z", "symbolSize": 177, "symbolStrokeColor": "#000", "symbolStrokeWidth": 1.5, "labelFontSize": 19, "labelFont": "DejaVu Sans Condensed, Liberation Sans", "labelColor": "#000", "labelOffset": 26, "columnPadding": 32}}
               }},
              {"transform": [{"filter": "datum.lda > 0"}],
               "mark": {"type": "text", "align": "right", "dx": -5, "fontSize": 12, "font": "DejaVu Sans Condensed, Liberation Sans", "color": "#000"},
               "encoding": {
                 "x": {"datum": 0, "type": "quantitative", "axis": {"orient": "top", "values": [-6, -4.8, -3.6, -2.4, -1.2, 0, 1.2, 2.4, 3.6, 4.8, 6], "labels": false, "grid": false, "domain": false, "tickSize": -6, "tickColor": "#444", "title": null}},
                 "text": {"field": "feature"}
               }},
              {"transform": [{"filter": "datum.lda < 0"}],
               "mark": {"type": "text", "align": "left", "dx": 5, "fontSize": 12, "font": "DejaVu Sans Condensed, Liberation Sans", "color": "#000"},
               "encoding": {"x": {"datum": 0, "type": "quantitative", "axis": null}, "text": {"field": "feature"}}}
            ]
          }
        ],
        "spacing": 0, "bounds": "flush",
        "resolve": {"scale": {"color": "independent", "fill": "independent", "stroke": "independent", "size": "independent", "x": "independent", "y": "independent"}, "legend": {"color": "independent", "fill": "independent"}}
      }
    ],
    "spacing": 57,
    "resolve": {"scale": {"color": "independent", "fill": "independent", "stroke": "independent", "shape": "independent", "size": "independent", "x": "independent", "y": "independent"}, "legend": {"color": "independent", "fill": "independent", "stroke": "independent", "shape": "independent", "size": "independent"}}
  }
],
"spacing": 32,
"resolve": {"scale": {"color": "independent", "fill": "independent", "stroke": "independent", "shape": "independent", "size": "independent", "x": "independent", "y": "independent"}, "legend": {"color": "independent", "fill": "independent", "stroke": "independent", "shape": "independent", "size": "independent"}}
}
